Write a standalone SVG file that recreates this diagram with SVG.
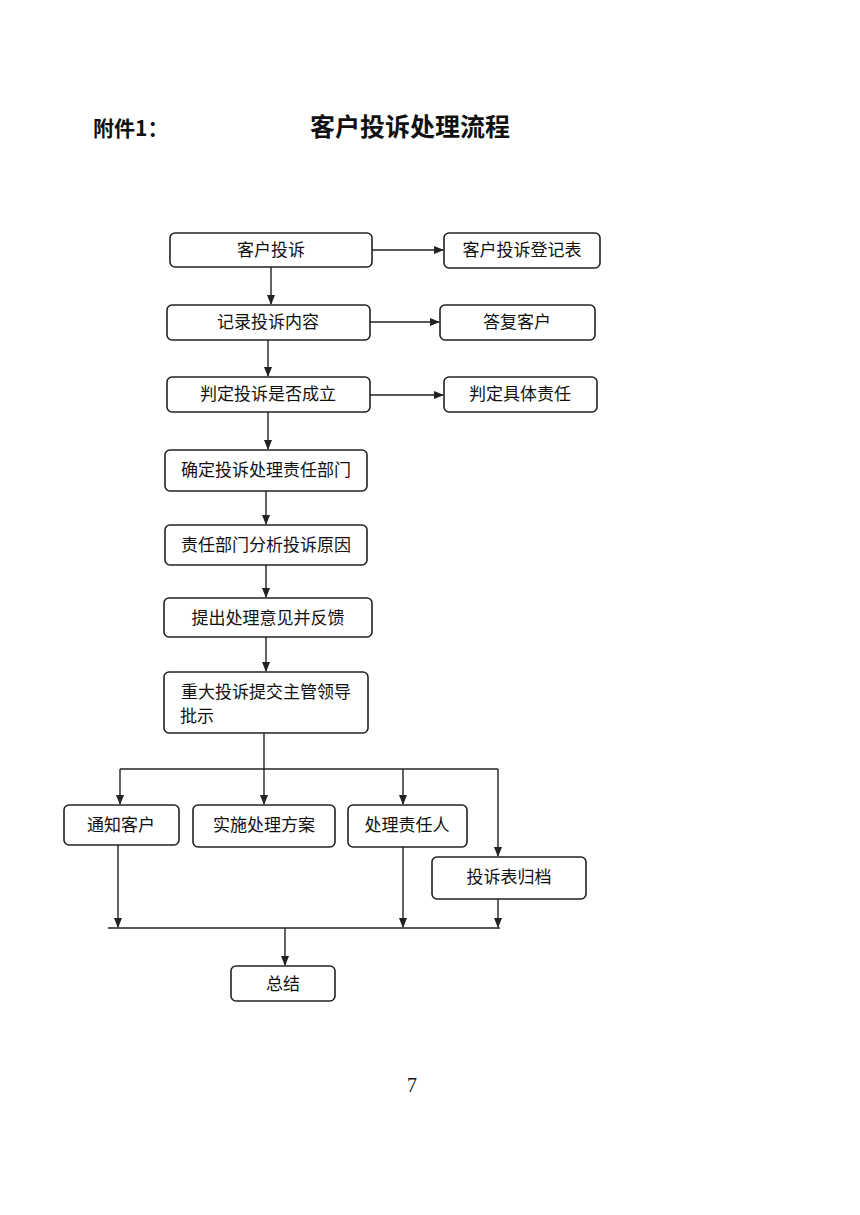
<svg xmlns="http://www.w3.org/2000/svg" width="860" height="1215" viewBox="0 0 860 1215">
<style>
.b{fill:#fff;stroke:#222;stroke-width:1.6}
.t{font-family:"Noto Sans CJK SC","Noto Sans",sans-serif;font-size:17px;fill:#111;text-anchor:middle}
.c{fill:none;stroke:#222;stroke-width:1.4}
</style>
<defs><marker id="a" markerWidth="10" markerHeight="8" refX="9" refY="4" orient="auto" markerUnits="userSpaceOnUse"><path d="M0,0L10,4L0,8z" fill="#222"/></marker></defs>
<rect width="860" height="1215" fill="#fff"/>
<text x="93" y="136" style="font-family:'Noto Sans CJK SC',sans-serif;font-size:21px;font-weight:bold;fill:#111">附件1：</text>
<text x="410" y="136" style="font-family:'Noto Sans CJK SC',sans-serif;font-size:25px;font-weight:bold;fill:#111;text-anchor:middle">客户投诉处理流程</text>
<g id="n1"><rect class="b" x="170" y="233" width="202" height="34" rx="5"/><text class="t" x="271" y="256">客户投诉</text></g>
<g id="n2"><rect class="b" x="444" y="233" width="156" height="35" rx="5"/><text class="t" x="522" y="256">客户投诉登记表</text></g>
<g id="n3"><rect class="b" x="167" y="305" width="203" height="35" rx="5"/><text class="t" x="268" y="328">记录投诉内容</text></g>
<g id="n4"><rect class="b" x="440" y="305" width="155" height="35" rx="5"/><text class="t" x="517" y="328">答复客户</text></g>
<g id="n5"><rect class="b" x="167" y="377" width="203" height="35" rx="5"/><text class="t" x="268" y="400">判定投诉是否成立</text></g>
<g id="n6"><rect class="b" x="444" y="377" width="153" height="35" rx="5"/><text class="t" x="520" y="400">判定具体责任</text></g>
<g id="n7"><rect class="b" x="165" y="450" width="202" height="41" rx="5"/><text class="t" x="266" y="476">确定投诉处理责任部门</text></g>
<g id="n8"><rect class="b" x="165" y="525" width="202" height="40" rx="5"/><text class="t" x="266" y="551">责任部门分析投诉原因</text></g>
<g id="n9"><rect class="b" x="164" y="598" width="208" height="39" rx="5"/><text class="t" x="268" y="624">提出处理意见并反馈</text></g>
<g id="n10"><rect class="b" x="164" y="672" width="204" height="61" rx="5"/><text class="t" x="266" y="698">重大投诉提交主管领导</text><text class="t" x="180" y="722" style="text-anchor:start">批示</text></g>
<g id="n11"><rect class="b" x="64" y="805" width="115" height="40" rx="5"/><text class="t" x="121" y="831">通知客户</text></g>
<g id="n12"><rect class="b" x="193" y="805" width="142" height="42" rx="5"/><text class="t" x="264" y="831">实施处理方案</text></g>
<g id="n13"><rect class="b" x="348" y="805" width="119" height="42" rx="5"/><text class="t" x="407" y="831">处理责任人</text></g>
<g id="n14"><rect class="b" x="432" y="857" width="154" height="42" rx="5"/><text class="t" x="509" y="883">投诉表归档</text></g>
<g id="n15"><rect class="b" x="231" y="966" width="104" height="35" rx="5"/><text class="t" x="283" y="990">总结</text></g>
<g id="connectors">
<path class="c" d="M372,250H443" marker-end="url(#a)"/>
<path class="c" d="M370,322H439" marker-end="url(#a)"/>
<path class="c" d="M370,395H443" marker-end="url(#a)"/>
<path class="c" d="M271,267V304" marker-end="url(#a)"/>
<path class="c" d="M268,340V376" marker-end="url(#a)"/>
<path class="c" d="M268,412V449" marker-end="url(#a)"/>
<path class="c" d="M266,491V524" marker-end="url(#a)"/>
<path class="c" d="M266,565V597" marker-end="url(#a)"/>
<path class="c" d="M266,637V671" marker-end="url(#a)"/>
<path class="c" d="M120,769H498"/>
<path class="c" d="M120,769V804" marker-end="url(#a)"/>
<path class="c" d="M264,733V804" marker-end="url(#a)"/>
<path class="c" d="M403,769V804" marker-end="url(#a)"/>
<path class="c" d="M498,769V856" marker-end="url(#a)"/>
<path class="c" d="M108,928H500"/>
<path class="c" d="M118,845V927" marker-end="url(#a)"/>
<path class="c" d="M403,847V927" marker-end="url(#a)"/>
<path class="c" d="M498,899V927" marker-end="url(#a)"/>
<path class="c" d="M285,928V965" marker-end="url(#a)"/>
</g>
<text x="412" y="1092" style="font-family:'Liberation Serif',serif;font-size:20px;fill:#111;text-anchor:middle">7</text>
</svg>
